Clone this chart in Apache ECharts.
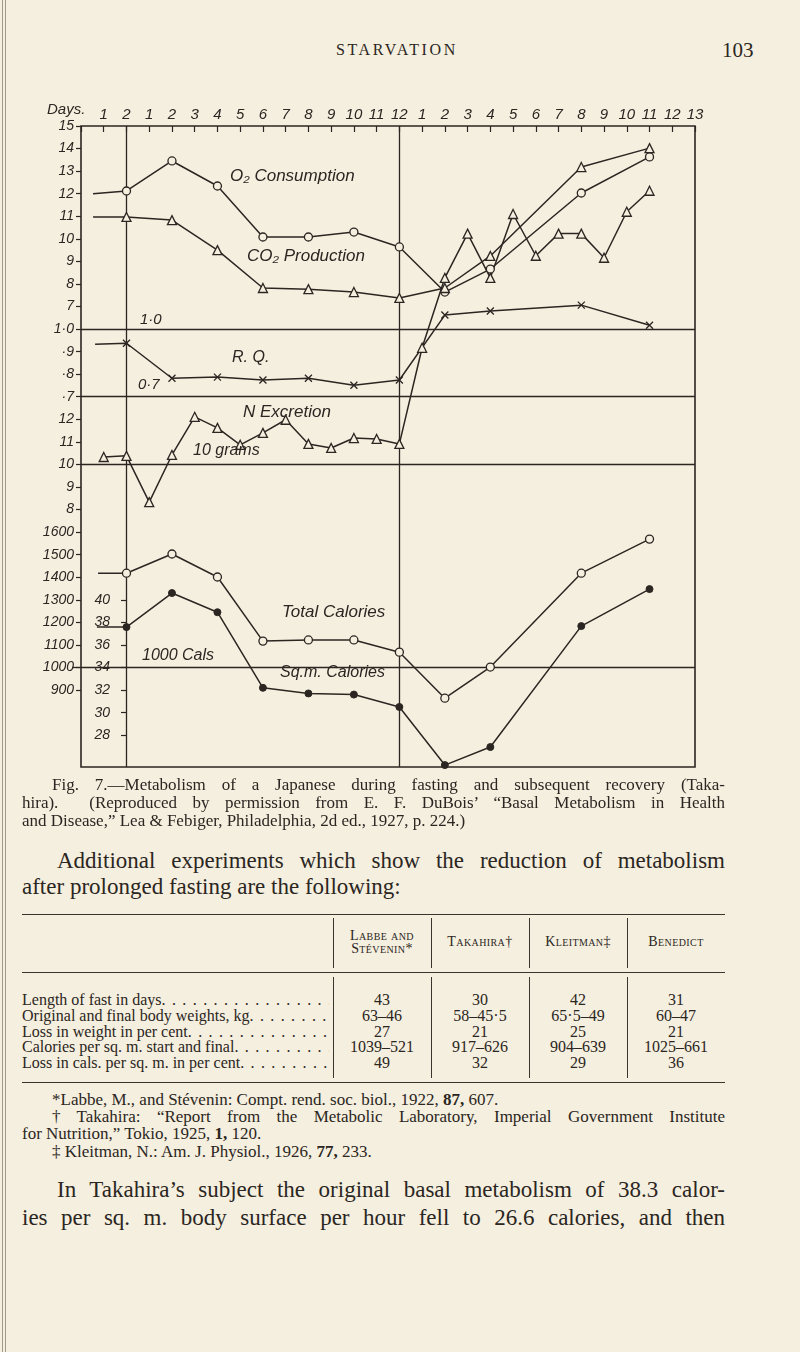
<!DOCTYPE html>
<html><head><meta charset="utf-8">
<script src="https://cdn.jsdelivr.net/npm/echarts@6/dist/echarts.min.js"></script>
<style>
html,body{margin:0;padding:0;}
body{width:800px;height:1352px;background:#f5efdf;position:relative;overflow:hidden;font-family:"Liberation Serif","DejaVu Serif",serif;color:#2b2622;}
.gut{position:absolute;top:0;height:1352px;width:1px;background:#a29a88;}
#chart{position:absolute;left:0;top:0;width:800px;height:790px;}
.ln{position:absolute;white-space:nowrap;overflow:visible;}
.rule{position:absolute;height:0;border-top:1.5px solid #3a342e;}
.vr{position:absolute;width:0;border-left:1px solid #3a342e;}
.sc{font-variant:small-caps;letter-spacing:0.4px;}
.c{text-align:center;}
.lab{display:flex;overflow:hidden;}
.lab .d{flex:1;overflow:hidden;white-space:nowrap;letter-spacing:1.2px;}
</style></head>
<body>
<div class="gut" style="left:2px"></div><div class="gut" style="left:5px"></div>
<div class="ln" style="left:336px;top:41px;font-size:16px;letter-spacing:2.6px;">STARVATION</div>
<div class="ln" style="left:722px;top:38px;font-size:21px;">103</div>
<div id="chart"></div>
<div id="text"></div>
<script>
// ---------- chart data ----------
const topLabels = ['', '1','2', '1','2','3','4','5','6','7','8','9','10','11','12', '1','2','3','4','5','6','7','8','9','10','11','12','13'];
// day index: pre-fast days 1-2 -> 1-2, fasting days 1-12 -> 3-14, recovery days 1-13 -> 15-27
const o2Days  = [0.53, 2, 4, 6, 8, 10, 12, 14, 16, 18, 22, 25];
const o2Vals  = [12.0, 12.12, 13.45, 12.34, 10.08, 10.08, 10.3, 9.64, 7.64, 8.66, 12.03, 13.63];
const co2Days = [0.53, 2, 4, 6, 8, 10, 12, 14, 16, 18, 22, 25];
const co2Vals = [10.97, 10.97, 10.83, 9.5, 7.82, 7.77, 7.64, 7.38, 7.82, 9.24, 13.18, 14.02];
const rqDays  = [0.62, 2, 4, 6, 8, 10, 12, 14, 16, 18, 22, 25];
const rqVals  = [0.933, 0.937, 0.782, 0.787, 0.774, 0.782, 0.751, 0.774, 1.062, 1.08, 1.106, 1.017];
const nDays   = [1, 2, 3, 4, 5, 6, 7, 8, 9, 10, 11, 12, 13, 14, 15, 16, 17, 18, 19, 20, 21, 22, 23, 24, 25];
const nVals   = [10.33, 10.38, 8.33, 10.42, 12.11, 11.62, 10.87, 11.4, 11.98, 10.91, 10.73, 11.17, 11.13, 10.91,
                 15.17, 18.27, 20.23, 18.27, 21.1, 19.25, 20.23, 20.23, 19.16, 21.2, 22.13];
const calDays = [0.75, 2, 4, 6, 8, 10, 12, 14, 16, 18, 22, 25];
const calVals = [1418, 1418, 1503, 1401, 1117, 1122, 1122, 1068, 864, 1002, 1418, 1569];
const sqDays  = [0.7, 2, 4, 6, 8, 10, 12, 14, 16, 18, 22, 25];
const sqVals  = [37.6, 37.58, 40.6, 38.9, 32.2, 31.7, 31.6, 30.5, 25.35, 26.95, 37.67, 40.95];
// tick labels
const o2Ticks  = [7, 8, 9, 10, 11, 12, 13, 14, 15];
const rqTicks  = [0.7, 0.8, 0.9, 1.0];
const rqTickLabels = {'0.7':'·7', '0.8':'·8', '0.9':'·9', '1':'1·0'};
const nTicks   = [8, 9, 10, 11, 12];
const calTicks = [900, 1000, 1100, 1200, 1300, 1400, 1500, 1600];
const sqTicks  = [28, 30, 32, 34, 36, 38, 40];
const dividerRQ = [1.0, 0.7], dividerN = [10], dividerCal = [1000], dividerDays = [2, 14];

const PAPER = '#f5efdf', INK = '#2b2622';
const chart = echarts.init(document.getElementById('chart'), null, {renderer:'canvas'});
const lblFont = {fontStyle:'italic', fontFamily:'Liberation Sans', fontSize:14, color:INK};
function yAx(min, max, ticks, fmt, extra) {
  return Object.assign({
    type:'value', position:'left', min, max, scale:true,
    axisLine:{show:false, onZero:false}, splitLine:{show:false},
    axisTick:{show:true, length:5, customValues:ticks, lineStyle:{color:INK, width:1.2}},
    axisLabel:Object.assign({customValues:ticks, margin:7, formatter:fmt}, lblFont)
  }, extra || {});
}
function pts(days, vals) {
  return days.map((d, i) => i === 0 && d % 1 !== 0 ? {value:[d, vals[i]], symbol:'none'} : {value:[d, vals[i]]});
}
const hollow = {color:PAPER, borderColor:INK, borderWidth:1.3};
const lineSt = {color:INK, width:1.5};
const xPath = 'path://M0,0L10,10M10,0L0,10';
const ml = (arr, key) => ({silent:true, symbol:'none', label:{show:false}, z:1,
  lineStyle:{color:INK, width:1.3, type:'solid'}, data:arr.map(v => ({[key]:v}))});
const sqAxis = yAx(82 - 56.82, 82, sqTicks, v => String(v), {offset:-45});
sqAxis.axisLabel.margin = 14;
sqAxis.axisLabel.backgroundColor = PAPER;
sqAxis.axisLabel.padding = [0, 2, 0, 2];
const option = {
  animation:false,
  grid:{left:81, top:126, width:614, height:641, show:true, borderColor:INK, borderWidth:1.6},
  xAxis:{type:'value', position:'top', min:0, max:27, interval:1,
    axisLine:{show:false, onZero:false}, splitLine:{show:false},
    axisTick:{show:true, inside:true, length:6, lineStyle:{color:INK, width:1.2}},
    axisLabel:Object.assign({margin:4, formatter:v => topLabels[v] || ''}, lblFont, {fontSize:15})},
  yAxis:[
    yAx(15 - 28.41, 15, o2Ticks, v => String(v)),
    yAx(1.9 - 2.841, 1.9, rqTicks, v => rqTickLabels[String(Math.round(v*10)/10)] || ''),
    yAx(25 - 28.41, 25, nTicks, v => String(v)),
    yAx(3400 - 2841, 3400, calTicks, v => String(v)),
    sqAxis,
    yAx(3400 - 2841, 3400, [1000], v => '', {axisTick:{show:true, length:9, customValues:[1000], lineStyle:{color:INK, width:1.3}}})
  ],
  series:[
    {type:'line', name:'O2', yAxisIndex:0, data:pts(o2Days, o2Vals), symbol:'circle', symbolSize:8, itemStyle:hollow, lineStyle:lineSt, markLine:ml(dividerDays, 'xAxis'), z:3},
    {type:'line', name:'CO2', yAxisIndex:0, data:pts(co2Days, co2Vals), symbol:'triangle', symbolSize:9, itemStyle:hollow, lineStyle:lineSt, z:3},
    {type:'line', name:'RQ', yAxisIndex:1, data:pts(rqDays, rqVals), symbol:xPath, symbolSize:7, itemStyle:{color:'none', borderColor:INK, borderWidth:1.3}, lineStyle:lineSt, markLine:ml(dividerRQ, 'yAxis'), z:3},
    {type:'line', name:'N', yAxisIndex:2, data:pts(nDays, nVals), symbol:'triangle', symbolSize:9, itemStyle:hollow, lineStyle:lineSt, markLine:ml(dividerN, 'yAxis'), z:3},
    {type:'line', name:'Cal', yAxisIndex:3, data:pts(calDays, calVals), symbol:'circle', symbolSize:8, itemStyle:hollow, lineStyle:lineSt, markLine:ml(dividerCal, 'yAxis'), z:3},
    {type:'line', name:'Sq', yAxisIndex:4, data:pts(sqDays, sqVals), symbol:'circle', symbolSize:7, itemStyle:{color:INK, borderColor:INK}, lineStyle:lineSt, z:3}
  ],
  graphic:[
    ['Days.', 47, 102, 15],
    ['O₂ Consumption', 230, 168, 17],
    ['CO₂ Production', 247, 248, 17],
    ['1·0', 140, 312, 15],
    ['R. Q.', 232, 350, 16],
    ['0·7', 138, 377, 15],
    ['N Excretion', 243, 404, 17],
    ['10 grams', 193, 443, 16],
    ['Total Calories', 282, 604, 17],
    ['1000 Cals', 142, 648, 16],
    ['Sq.m. Calories', 280, 665, 16]
  ].map(([t, x, y, s]) => ({type:'text', left:x, top:y, z:10,
      style:{text:t, font:'italic ' + s + 'px "Liberation Sans"', fill:INK}}))
};
chart.setOption(option);

// ---------- page text ----------
const tableHead = ['Labbe and<br>Stévenin*', 'Takahira†', 'Kleitman‡', 'Benedict'];
const rowLabels = ['Length of fast in days', 'Original and final body weights, kg', 'Loss in weight in per cent',
  'Calories per sq. m. start and final', 'Loss in cals. per sq. m. in per cent'];
const rowVals = [['43','30','42','31'], ['63–46','58–45·5','65·5–49','60–47'], ['27','21','25','21'],
  ['1039–521','917–626','904–639','1025–661'], ['49','32','29','36']];
const T = document.getElementById('text');
function add(html, cls, style) { const d = document.createElement('div'); d.className = cls; d.style.cssText = style; d.innerHTML = html; T.appendChild(d); return d; }
// one printed line; if width is given the line is spread to exactly that width
function tline(txt, left, cy, size, width) {
  const lh = Math.round(size * 1.2);
  const d = add('<span>' + txt + '</span>', 'ln', `left:${left}px;top:${cy - lh/2}px;font-size:${size}px;line-height:${lh}px;`);
  if (width) {
    const sp = d.firstChild, w = sp.getBoundingClientRect().width;
    const n = (sp.textContent.match(/[ \u00a0]/g) || []).length;
    if (n) sp.style.wordSpacing = ((width - w) / n) + 'px';
  }
  return d;
}
const L = 22, R = 725, CAP = 17, BODY = 23;
tline('Fig. 7.—Metabolism of a Japanese during fasting and subsequent recovery (Taka-', 52, 785, CAP, R - 52);
tline('hira).&nbsp; (Reproduced by permission from E. F. DuBois’ “Basal Metabolism in Health', L, 803, CAP, R - L);
tline('and Disease,” Lea &amp; Febiger, Philadelphia, 2d ed., 1927, p. 224.)', L, 821, CAP);
tline('Additional experiments which show the reduction of metabolism', 57, 861, BODY, R - 57);
tline('after prolonged fasting are the following:', L, 887, BODY);
const colX = [333, 431, 529, 627, R];
add('', 'rule', `left:${L}px;top:914px;width:${R - L}px;`);
add('', 'rule', `left:${L}px;top:972px;width:${R - L}px;`);
add('', 'rule', `left:${L}px;top:1082px;width:${R - L}px;`);
for (let i = 0; i < 4; i++) {
  add('', 'vr', `left:${colX[i]}px;top:918px;height:50px;`);
  add('', 'vr', `left:${colX[i]}px;top:977px;height:101px;`);
  const two = tableHead[i].includes('<br>');
  add(tableHead[i], 'ln sc c', `left:${colX[i]}px;width:${colX[i+1] - colX[i]}px;top:${two ? 929 : 935}px;font-size:14px;line-height:13px;white-space:normal;`);
}
rowLabels.forEach((lab, r) => {
  const cy = 1000 + r * 15.8;
  add(`<span>${lab}</span><span class="d">${'. '.repeat(40)}</span>`, 'ln lab',
      `left:${L}px;width:${colX[0] - L - 4}px;top:${cy - 9}px;font-size:16px;line-height:18px;`);
  rowVals[r].forEach((v, i) => add(v, 'ln c', `left:${colX[i]}px;width:${colX[i+1] - colX[i]}px;top:${cy - 9}px;font-size:16px;line-height:18px;`));
});
tline('*Labbe, M., and Stévenin: Compt. rend. soc. biol., 1922, <b>87,</b> 607.', 52, 1100, CAP);
tline('† Takahira: “Report from the Metabolic Laboratory, Imperial Government Institute', 52, 1117, CAP, R - 52);
tline('for Nutrition,” Tokio, 1925, <b>1,</b> 120.', L, 1134, CAP);
tline('‡ Kleitman, N.: Am. J. Physiol., 1926, <b>77,</b> 233.', 52, 1152, CAP);
tline('In Takahira’s subject the original basal metabolism of 38.3 calor-', 57, 1190, BODY, R - 57);
tline('ies per sq. m. body surface per hour fell to 26.6 calories, and then', L, 1218, BODY, R - L);
</script>
</body></html>
